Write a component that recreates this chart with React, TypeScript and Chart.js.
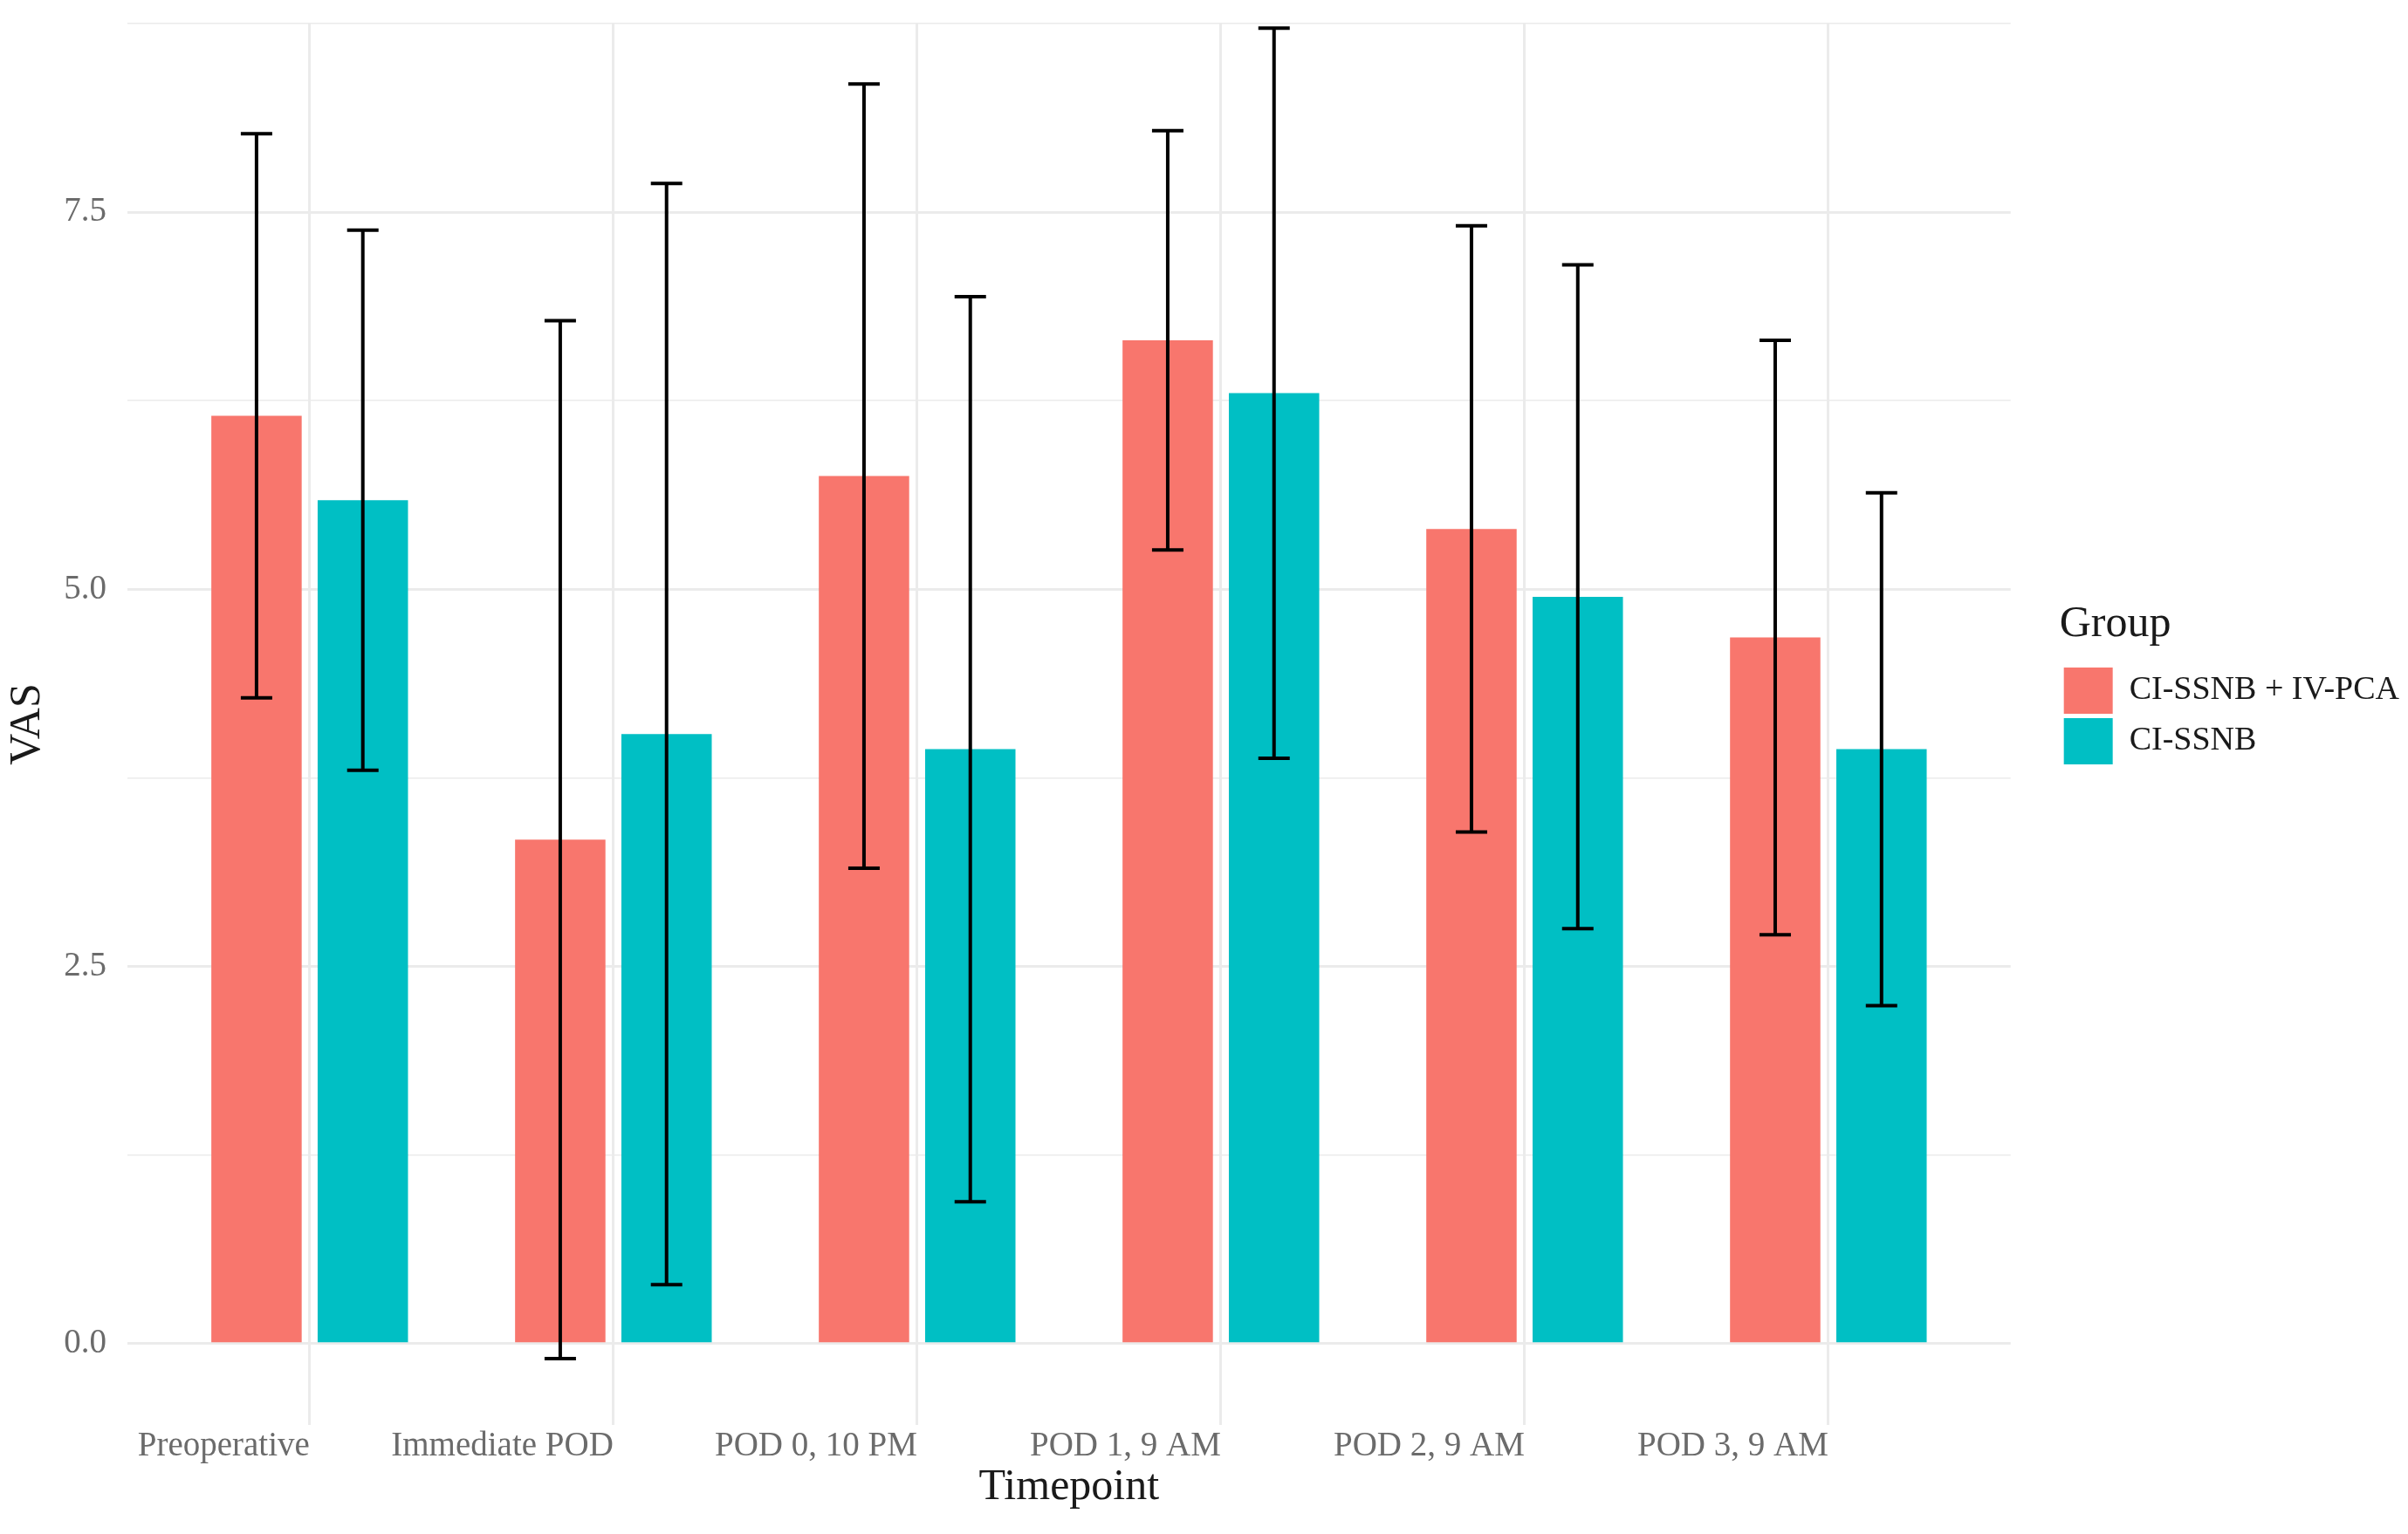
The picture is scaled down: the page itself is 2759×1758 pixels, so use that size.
import React, { useEffect, useRef } from 'react';
import { Chart, registerables } from 'chart.js';

Chart.register(...registerables);

const categories = ['Preoperative', 'Immediate POD', 'POD 0, 10 PM', 'POD 1, 9 AM', 'POD 2, 9 AM', 'POD 3, 9 AM'];
const groupNames = ['CI-SSNB + IV-PCA', 'CI-SSNB'];
const meanCombined = [6.15, 3.34, 5.75, 6.65, 5.4, 4.68];
const sdCombined = [1.87, 3.44, 2.6, 1.39, 2.01, 1.97];
const meanSingle = [5.59, 4.04, 3.94, 6.3, 4.95, 3.94];
const sdSingle = [1.79, 3.65, 3.0, 2.42, 2.2, 1.7];
const yTickValues = [0, 1.25, 2.5, 3.75, 5, 6.25, 7.5, 8.75];
const yLabelValues = [0, 2.5, 5, 7.5];
const groupColors = ['#F8766D', '#00BFC4'];

const W = 2759;
const H = 1758;
const FONT = "'Liberation Serif', 'DejaVu Serif', serif";
const GRID = '#ebebeb';

const sdByDataset = [sdCombined, sdSingle];

const errorBarPlugin = {
  id: 'errorBars',
  afterDatasetsDraw(chart: any) {
    const { ctx } = chart;
    const yScale = chart.scales.y;
    chart.data.datasets.forEach((ds: any, d: number) => {
      const meta = chart.getDatasetMeta(d);
      const sds = sdByDataset[d];
      meta.data.forEach((el: any, i: number) => {
        const m = ds.data[i].y;
        const s = sds[i];
        const x = el.x;
        const yt = yScale.getPixelForValue(m + s);
        const yb = yScale.getPixelForValue(m - s);
        const hw = 18;
        ctx.save();
        ctx.strokeStyle = '#000000';
        ctx.lineWidth = 4;
        ctx.lineCap = 'butt';
        ctx.beginPath();
        ctx.moveTo(x, yt);
        ctx.lineTo(x, yb);
        ctx.moveTo(x - hw, yt);
        ctx.lineTo(x + hw, yt);
        ctx.moveTo(x - hw, yb);
        ctx.lineTo(x + hw, yb);
        ctx.stroke();
        ctx.restore();
      });
    });
  },
};

export default function App() {
  const canvasRef = useRef<HTMLCanvasElement | null>(null);

  useEffect(() => {
    const canvas = canvasRef.current;
    if (!canvas) return;
    const means = [meanCombined, meanSingle];
    const chart = new Chart(canvas, {
      type: 'bar',
      data: {
        datasets: groupNames.map((name, d) => ({
          label: name,
          data: categories.map((_, i) => ({ x: i + 1, y: means[d][i] })),
          backgroundColor: groupColors[d],
          borderWidth: 0,
          categoryPercentage: 0.7,
          barPercentage: 0.85,
        })),
      },
      options: {
        responsive: false,
        animation: false,
        devicePixelRatio: 1,
        layout: { padding: { top: 27, left: 0, right: 0, bottom: 0 } },
        plugins: {
          tooltip: { enabled: false },
          legend: {
            position: 'right',
            align: 'start',
            labels: {
              boxWidth: 56,
              boxHeight: 53,
              padding: 5,
              color: '#1a1a1a',
              font: { family: FONT, size: 38 },
            },
            title: {
              display: true,
              position: 'start',
              text: 'Group',
              color: '#1a1a1a',
              font: { family: FONT, size: 50 },
              padding: { top: 664, bottom: 9 },
            },
          },
        },
        scales: {
          x: {
            type: 'linear',
            offset: false,
            min: 0.4,
            max: 6.6,
            afterBuildTicks: (s: any) => {
              s.ticks = categories.map((_, i) => ({ value: i + 1 }));
            },
            afterFit: (s: any) => {
              s.height = 125;
              s.paddingLeft = 0;
              s.paddingRight = 0;
            },
            ticks: {
              callback: (v: any) => categories[Math.round(Number(v)) - 1] ?? '',
              align: 'end',
              autoSkip: false,
              maxRotation: 0,
              minRotation: 0,
              padding: 1,
              color: '#6b6b6b',
              font: { family: FONT, size: 39 },
            },
            grid: { color: GRID, lineWidth: 3, drawTicks: false, offset: false },
            border: { display: false },
            title: {
              display: true,
              text: 'Timepoint',
              color: '#1a1a1a',
              font: { family: FONT, size: 50 },
              padding: { top: 0, bottom: 23 },
            },
          },
          y: {
            type: 'linear',
            min: -0.54,
            max: 8.75,
            afterBuildTicks: (s: any) => {
              s.ticks = yTickValues.map((v) => ({ value: v }));
            },
            afterFit: (s: any) => {
              s.width = 146;
              s.paddingTop = 0;
              s.paddingBottom = 0;
            },
            ticks: {
              callback: (v: any) => (yLabelValues.includes(Number(v)) ? Number(v).toFixed(1) : ''),
              padding: 24,
              color: '#6b6b6b',
              font: { family: FONT, size: 39 },
            },
            grid: {
              color: GRID,
              lineWidth: (c: any) => (c.tick && yLabelValues.includes(c.tick.value) ? 3 : 1.5),
              drawTicks: false,
            },
            border: { display: false },
            title: {
              display: true,
              text: 'VAS',
              color: '#1a1a1a',
              font: { family: FONT, size: 50 },
              padding: { top: 2, bottom: 0 },
            },
          },
          spacer: {
            type: 'linear',
            position: 'right',
            display: true,
            grid: { display: false, drawTicks: false },
            ticks: { display: false },
            border: { display: false },
            afterFit: (s: any) => {
              s.width = 56;
              s.paddingTop = 0;
              s.paddingBottom = 0;
            },
          },
        },
      } as any,
      plugins: [errorBarPlugin],
    });
    return () => chart.destroy();
  }, []);

  return (
    <div style={{ position: 'absolute', left: 0, top: 0, width: W, height: H, background: '#ffffff' }}>
      <canvas ref={canvasRef} width={W} height={H} style={{ display: 'block', width: W, height: H }} />
    </div>
  );
}
